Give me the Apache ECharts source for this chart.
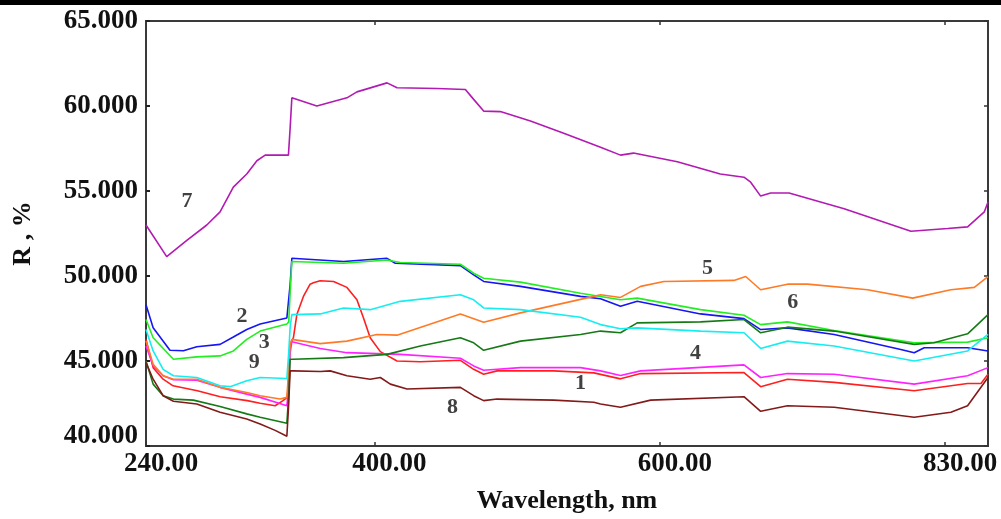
<!DOCTYPE html>
<html>
<head>
<meta charset="utf-8">
<script src="https://cdn.jsdelivr.net/npm/echarts@6/dist/echarts.min.js"></script>
<style>
html,body{margin:0;padding:0;background:#fff;}
#c{width:1001px;height:519px;}
</style>
</head>
<body>
<div id="c"></div>
<script>
// ---- Data (wavelength nm, reflectance %) ----
var xTickValues = [240, 400, 600, 800];
var xTickLabels = ['240.00', '400.00', '600.00', '830.00'];
var yTickLabels = ['40.000', '45.000', '50.000', '55.000', '60.000', '65.000'];

var s1 = [[240,46.27],[245,44.61],[252,43.93],[259,43.54],[276,43.25],[292,42.9],[311,42.67],[320,42.51],[330.5,42.37],[336,42.67],[339,42.86],[340,44.0],[341,46.0],[343.3,46.37],[345.7,47.73],[350.3,48.8],[355,49.52],[357.3,49.6],[362,49.72],[371.4,49.68],[380.8,49.33],[387.8,48.6],[392.4,47.53],[397.1,46.37],[404.2,45.55],[415.9,45.0],[432.2,44.96],[460.3,45.04],[469.6,44.51],[476.6,44.22],[486,44.42],[525.7,44.42],[553.8,44.3],[572.5,43.95],[586.6,44.26],[659,44.32],[670.7,43.49],[689.5,43.93],[722.2,43.74],[778.3,43.25],[815.7,43.68],[825.1,43.68],[830,44.22]];
var s2 = [[240,48.31],[245,46.95],[256.8,45.63],[266.2,45.6],[275.6,45.84],[291.9,45.98],[301.2,46.41],[310.6,46.85],[320,47.18],[338.7,47.53],[340,47.6],[341,49.5],[342.2,51.04],[343.3,51.04],[378.4,50.85],[408.9,51.04],[414.7,50.75],[460.3,50.61],[469.6,50.07],[476.6,49.68],[502.4,49.39],[544.5,48.8],[558.5,48.66],[572.5,48.22],[584.2,48.51],[628.6,47.77],[659,47.49],[670.7,46.85],[689.5,46.95],[722.2,46.56],[768.9,45.68],[778.3,45.49],[785.3,45.78],[815.7,45.78],[830,45.59]];
var s3 = [[240,47.44],[245,46.37],[259.2,45.1],[275.6,45.24],[291.9,45.3],[301.2,45.59],[310.6,46.27],[320,46.76],[338.7,47.18],[340,47.3],[341,49.0],[342.2,50.85],[343.3,50.94],[378.4,50.75],[408.9,50.94],[418.2,50.79],[460.3,50.69],[469.6,50.16],[476.6,49.87],[502.4,49.64],[544.5,48.99],[572.5,48.6],[584.2,48.7],[628.6,48.02],[659,47.69],[670.7,47.14],[689.5,47.3],[722.2,46.79],[778.3,46.07],[815.7,46.11],[830,46.37]];
var s4 = [[240,45.88],[245,44.72],[252,44.13],[259.2,43.9],[275.6,43.87],[291.9,43.45],[310.6,43.05],[320,42.86],[338.7,42.37],[340,43.5],[341,45.5],[342.2,46.13],[343.3,46.07],[362.1,45.74],[380.8,45.49],[418.2,45.39],[460.3,45.16],[469.6,44.71],[476.6,44.46],[502.4,44.61],[544.5,44.61],[558.5,44.42],[572.5,44.15],[586.6,44.42],[659,44.77],[670.7,44.03],[689.5,44.26],[722.2,44.22],[778.3,43.64],[815.7,44.13],[830,44.61]];
var s5 = [[240,46.17],[245,44.81],[252,44.13],[259.2,43.93],[275.6,43.93],[291.9,43.45],[310.6,43.15],[320,42.96],[334,42.76],[338.7,42.86],[340,44.5],[341,46.0],[342.2,46.27],[343.3,46.27],[362.1,46.02],[380.8,46.17],[401.8,46.56],[415.9,46.52],[460.3,47.77],[476.6,47.28],[502.4,47.83],[553.8,48.8],[558.5,48.9],[572.5,48.74],[586.6,49.39],[602.9,49.68],[652,49.74],[660.2,49.97],[670.7,49.19],[689.5,49.52],[703.5,49.52],[745.6,49.19],[777.2,48.7],[804,49.19],[820.4,49.33],[830,49.97]];
var s6 = [[240,45.0],[245,43.64],[252,42.96],[259.2,42.76],[273.2,42.7],[291.9,42.32],[310.6,41.89],[320,41.69],[338.7,41.34],[340,43.0],[341,45.1],[343.3,45.1],[378.4,45.2],[408.9,45.39],[432.2,45.88],[460.3,46.37],[469.6,46.07],[476.6,45.63],[502.4,46.17],[544.5,46.56],[558.5,46.76],[572.5,46.66],[584.2,47.24],[628.6,47.3],[659,47.44],[670.7,46.66],[689.5,46.99],[722.2,46.76],[778.3,45.98],[792.1,46.07],[815.7,46.6],[830,47.73]];
var s7 = [[240,53.0],[254.5,51.14],[268.6,52.1],[282.6,53.0],[291.9,53.77],[301.2,55.23],[310.6,56.0],[317.7,56.78],[323.5,57.11],[339.8,57.11],[341,58.7],[342.2,60.48],[343.3,60.48],[359.7,60.0],[380.8,60.48],[387.8,60.83],[408.9,61.36],[415.9,61.07],[443.9,61.03],[463.8,60.97],[469.6,60.39],[476.6,59.7],[488.3,59.67],[509.4,59.12],[532.7,58.4],[558.5,57.58],[572.5,57.11],[581.6,57.23],[612.3,56.72],[642.4,56.0],[659,55.81],[663.7,55.52],[670.7,54.7],[677.7,54.88],[690.6,54.88],[729.2,53.96],[776,52.63],[801.7,52.79],[815.7,52.89],[827.4,53.77],[830,54.35]];
var s8 = [[240,44.91],[245,43.93],[252,42.96],[259.2,42.63],[275.6,42.47],[291.9,41.99],[310.6,41.59],[320,41.3],[330.5,40.92],[338.7,40.57],[340,42.5],[341,44.42],[343.3,44.42],[362.1,44.38],[369.1,44.42],[380.8,44.13],[397.1,43.93],[404.2,44.03],[411.2,43.64],[422.9,43.35],[460.3,43.45],[469.6,42.96],[476.6,42.67],[486,42.76],[525.7,42.7],[553.8,42.57],[558.5,42.47],[572.5,42.28],[593.6,42.7],[659,42.9],[670.7,42.04],[689.5,42.37],[722.2,42.28],[778.3,41.69],[804,41.99],[815.7,42.37],[830,44.03]];
var s9 = [[240,46.85],[245,45.59],[252,44.51],[259.2,44.13],[275.6,44.03],[291.9,43.54],[298.9,43.49],[310.6,43.84],[320,44.03],[338.7,43.97],[340,45.5],[341,47.0],[342.2,47.73],[343.3,47.63],[362.1,47.77],[378.4,48.12],[397.1,48.02],[418.2,48.51],[460.3,48.9],[469.6,48.6],[476.6,48.12],[502.4,48.02],[544.5,47.57],[558.5,47.14],[572.5,46.9],[584.2,46.95],[628.6,46.76],[659,46.66],[670.7,45.74],[689.5,46.17],[722.2,45.88],[778.3,45.0],[815.7,45.59],[830,46.56]];

// curve number labels: [text, wavelength, value]
var curveLabels = [['7',268.8,54.37],['2',307.3,47.65],['3',322.8,46.07],['9',315.8,44.91],['5',633.5,50.46],['6',693.2,48.47],['4',625.1,45.43],['1',544.5,43.68],['8',454.7,42.28]];

var seriesList = [
  {d:s1, c:'#ff1f1f'},
  {d:s2, c:'#1515f5'},
  {d:s3, c:'#22ee22'},
  {d:s4, c:'#ff22ff'},
  {d:s5, c:'#ff7a26'},
  {d:s6, c:'#157a15'},
  {d:s7, c:'#b21ab2'},
  {d:s8, c:'#821a1a'},
  {d:s9, c:'#15eef0'}
];

var FONT = '"Liberation Serif", "Times New Roman", serif';
var chart = echarts.init(document.getElementById('c'), null, {renderer:'canvas'});

var series = seriesList.map(function(s){
  return {type:'line', data:s.d, showSymbol:false, symbol:'none', smooth:false,
    lineStyle:{color:s.c, width:1.6}, itemStyle:{color:s.c}, z:3, animation:false};
});
series.push({
  type:'scatter', symbolSize:0, z:5, animation:false,
  data: curveLabels.map(function(l){ return {name:l[0], value:[l[1], l[2]]}; }),
  label:{show:true, position:'inside', formatter:'{b}', color:'#111', fontFamily:FONT, fontWeight:'bold', fontSize:22}
});

chart.setOption({
  animation:false,
  backgroundColor:'#fff',
  grid:{left:146, right:13, top:21, bottom:70, show:true, borderColor:'#3a3a3a', borderWidth:2, backgroundColor:'#fff'},
  graphic:[{type:'rect', left:0, top:0, shape:{width:1001, height:5}, style:{fill:'#000'}}],
  xAxis:[{
    type:'value', min:240, max:830,
    name:'Wavelength, nm', nameLocation:'middle', nameGap:42,
    nameTextStyle:{fontFamily:FONT, fontWeight:'bold', fontSize:26, color:'#111'},
    axisLine:{show:false}, splitLine:{show:false},
    axisTick:{show:true, inside:true, length:4, customValues:xTickValues, lineStyle:{color:'#333', width:1.5}},
    axisLabel:{customValues:xTickValues, margin:5, fontFamily:FONT, fontWeight:'bold', fontSize:27, color:'#111',
      padding:[0,0,0,30],
      formatter:function(v){ var i = xTickValues.indexOf(v); return i>=0 ? xTickLabels[i] : ''; }}
  },{
    type:'value', min:240, max:830, position:'top',
    axisLine:{show:false}, splitLine:{show:false}, axisLabel:{show:false},
    axisTick:{show:true, inside:true, length:4, customValues:xTickValues.slice(1), lineStyle:{color:'#333', width:1.5}}
  }],
  yAxis:[{
    type:'value', min:40, max:65, interval:5,
    name:'R , %', nameLocation:'middle', nameGap:110, nameRotate:90,
    nameTextStyle:{fontFamily:FONT, fontWeight:'bold', fontSize:26, color:'#111'},
    axisLine:{show:false}, splitLine:{show:false},
    axisTick:{show:true, inside:true, length:4, lineStyle:{color:'#222', width:2}},
    axisLabel:{margin:8, fontFamily:FONT, fontWeight:'bold', fontSize:27, color:'#111',
      formatter:function(v){ var i = Math.round((v-40)/5); var t = yTickLabels[i]; return i===0 ? '{b|'+t+'}' : t; },
      rich:{b:{fontFamily:FONT, fontWeight:'bold', fontSize:27, color:'#111', padding:[0,0,20,0]}}}
  },{
    type:'value', min:40, max:65, interval:5, position:'right',
    axisLine:{show:false}, splitLine:{show:false}, axisLabel:{show:false},
    axisTick:{show:true, inside:true, length:4, lineStyle:{color:'#333', width:1.5}}
  }],
  series:series
});
</script>
</body>
</html>
